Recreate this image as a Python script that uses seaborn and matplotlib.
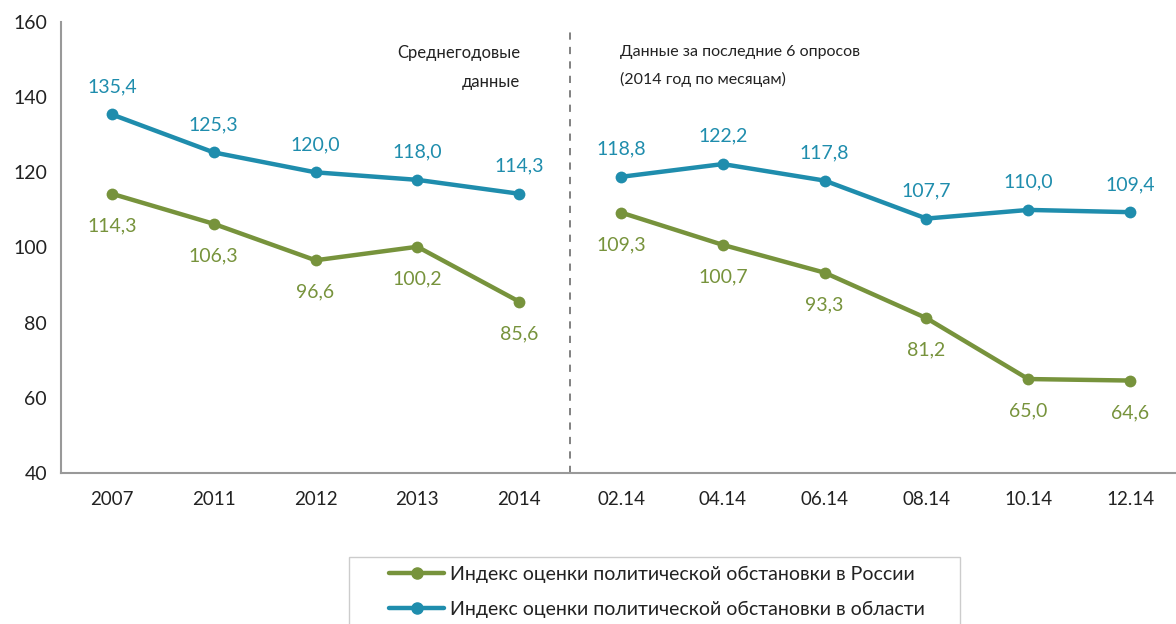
import numpy as np
import pandas as pd
import seaborn as sns
import matplotlib.pyplot as plt
from matplotlib.lines import Line2D
from matplotlib.patches import Rectangle

# Data
periods = ["2007", "2011", "2012", "2013", "2014",
           "02.14", "04.14", "06.14", "08.14", "10.14", "12.14"]
# first 5 are yearly averages, the rest are 2014 monthly surveys
part = ["year"] * 5 + ["month"] * 6
russia = [114.3, 106.3, 96.6, 100.2, 85.6, 109.3, 100.7, 93.3, 81.2, 65.0, 64.6]
region = [135.4, 125.3, 120.0, 118.0, 114.3, 118.8, 122.2, 117.8, 107.7, 110.0, 109.4]
series_names = ["Индекс оценки политической обстановки в России",
                "Индекс оценки политической обстановки в области"]
header_left = "Среднегодовые\nданные"
header_right = "Данные за последние 6 опросов\n(2014 год по месяцам)"

GREEN = "#77933c"
BLUE = "#1f8dad"

sns.set_style("white")
plt.rcParams["font.family"] = ["Lato", "DejaVu Sans"]

n = len(periods)
df = pd.DataFrame({
    "pos": list(range(n)) * 2,
    "value": russia + region,
    "series": [series_names[0]] * n + [series_names[1]] * n,
    "part": part * 2,
})

fig = plt.figure(figsize=(11.76, 6.24), dpi=100)
ax = fig.add_axes([61 / 1176, 1 - 473 / 624, 1120 / 1176, 451 / 624])

sns.lineplot(data=df, x="pos", y="value", hue="series", units="part",
             estimator=None, hue_order=series_names, palette=[GREEN, BLUE],
             marker="o", markersize=8.5, markeredgewidth=0, linewidth=3.2,
             ax=ax, legend=False)

# value labels
for i, v in enumerate(region):
    ax.annotate(f"{v:.1f}".replace(".", ","), (i, v), xytext=(0, 20),
                textcoords="offset points", ha="center", va="center",
                color=BLUE, fontsize=14)
for i, v in enumerate(russia):
    ax.annotate(f"{v:.1f}".replace(".", ","), (i, v), xytext=(0, -23),
                textcoords="offset points", ha="center", va="center",
                color=GREEN, fontsize=14)

ax.set_ylim(40, 160)
ax.set_yticks(np.arange(40, 161, 20))
ax.set_xlim(-0.5, 10.5)
ax.set_xticks(range(n))
ax.set_xticklabels(periods)
ax.set_xlabel("")
ax.set_ylabel("")

# category boundary ticks
ax.set_xticks(np.arange(-0.5, n, 1), minor=True)
ax.tick_params(axis="x", which="major", length=0, labelsize=13.5, pad=13, colors="#222222")
ax.tick_params(axis="x", which="minor", length=6, width=1.3, color="#999999")
ax.tick_params(axis="y", length=6, width=1.3, color="#999999", labelsize=14,
               labelcolor="#222222", pad=4)
sns.despine(ax=ax, top=True, right=True)
for s in ["left", "bottom"]:
    ax.spines[s].set_color("#999999")
    ax.spines[s].set_linewidth(1.5)

# divider between yearly and monthly data
ax.plot([4.5, 4.5], [40, 158.5], ls=(0, (4, 4)), color="#777777", lw=1.3, clip_on=False)

fig.text(520 / 1176, 1 - 45 / 624, header_left, ha="right", va="top",
         fontsize=12, color="#222222", linespacing=2.0)
fig.text(620 / 1176, 1 - 45 / 624, header_right, ha="left", va="top",
         fontsize=11.5, color="#222222", linespacing=2.05)

# legend frame drawn separately so the entries sit centred in a wide box
fig.patches.append(Rectangle((349 / 1176, -0.05), (960 - 349) / 1176, 0.05 + 67 / 624,
                             transform=fig.transFigure, fill=False,
                             edgecolor="#cccccc", lw=1))
handles = [Line2D([], [], color=GREEN, lw=3.2, marker="o", markersize=8),
           Line2D([], [], color=BLUE, lw=3.2, marker="o", markersize=8)]
leg = fig.legend(handles, series_names, loc="upper left",
                 bbox_to_anchor=(389 / 1176, 1 - 566 / 624), frameon=False,
                 fontsize=14, handlelength=2.85, handletextpad=0.3,
                 labelspacing=0.9, borderpad=0, borderaxespad=0)
for t in leg.get_texts():
    t.set_color("#222222")

fig.savefig("out.png", dpi=100)
